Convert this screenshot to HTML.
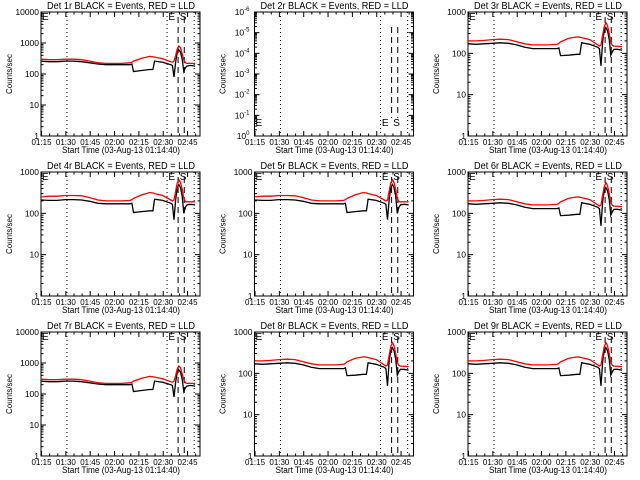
<!DOCTYPE html>
<html><head><meta charset="utf-8"><style>
html,body{margin:0;padding:0;background:#fff;}
svg{display:block;font-family:"Liberation Sans",sans-serif;}
</style></head><body>
<svg id="chart" width="640" height="480" viewBox="0 0 640 480" xmlns="http://www.w3.org/2000/svg"><rect width="640" height="480" fill="#fff"/></svg>
<script>
// minutes since 01:14:40
const times = [0,5,10,15,20,25,30,35,40,45,50,55,56,57,62,67,69,70,75,80,81,82,83,84,85,86,87,88,89,90,92,95];
const redA = [300,290,290,300,300,290,260,230,220,220,220,230,240,260,320,370,360,350,310,250,240,260,400,650,800,700,450,280,230,220,220,220];
const blackA = [260,250,250,260,260,250,230,210,200,200,200,200,210,120,130,140,140,260,240,200,190,80,250,500,600,500,300,120,160,180,190,180];
const redB = [250,260,260,270,270,265,240,210,200,200,200,205,215,230,280,320,310,300,270,210,200,210,350,550,650,560,380,230,190,190,190,190];
const blackB = [210,205,205,215,215,210,195,175,170,170,170,170,175,105,110,115,115,220,205,175,165,70,220,420,500,420,260,100,140,160,165,160];
const redC = [200,200,205,215,220,215,190,170,160,160,160,165,175,190,230,250,245,240,215,160,150,160,280,450,550,470,300,180,155,150,148,145];
const blackC = [170,165,170,175,180,175,160,140,130,130,130,130,135,88,90,95,95,180,165,140,130,50,200,350,420,350,220,90,110,125,125,120];
const detNames = ["1r","2r","3r","4r","5r","6r","7r","8r","9r"];
const panelSeries = ["A","none","C","B","B","C","A","C","C"];
const panelTopExp = [4,6,3,3,3,3,4,3,3];
const xTickLabels = ["01:15","01:30","01:45","02:00","02:15","02:30","02:45"];
const dottedTimes = [16,77.7,94.4];
const dashedTimes = [84.5,88.3];
const spanMin = 98;

const svg = document.getElementById('chart');
const NS = "http://www.w3.org/2000/svg";
function mk(tag, attrs, parent){ const e=document.createElementNS(NS,tag); for(const k in attrs) e.setAttribute(k,attrs[k]); (parent||svg).appendChild(e); return e; }
const seriesMap = {A:[redA,blackA],B:[redB,blackB],C:[redC,blackC]};

for(let i=0;i<9;i++){
  const col=i%3,row=Math.floor(i/3);
  const L=41+col*213.5, T=12+row*160, PW=159, PH=124;
  const g=mk('g',{});
  
  
  const xs=t=>L+t/spanMin*PW;
  const ne=panelTopExp[i];
  const ys=v=>T+PH-Math.log10(v)/ne*PH;
  const ye=e=>T+PH-e/ne*PH;
  const ti=mk('text',{x:L+80,y:T-3,'text-anchor':'middle','font-size':'10','textLength':148,'lengthAdjust':'spacingAndGlyphs'},g);
  ti.textContent='Det '+detNames[i]+' BLACK = Events, RED = LLD';
  
  
  const bx=mk('rect',{x:L,y:T,width:PW,height:PH,fill:'none',stroke:'#000','stroke-width':1},g);
  
  
  for(let e=0;e<=ne;e++){
    const y=ye(e);
    mk('line',{x1:L,x2:L+5,y1:y,y2:y,stroke:'#000'},g);
    mk('line',{x1:L+PW,x2:L+PW-5,y1:y,y2:y,stroke:'#000'},g);
    if(e<ne){ for(let m=2;m<10;m++){ const yy=ye(e+Math.log10(m));
      mk('line',{x1:L,x2:L+2.5,y1:yy,y2:yy,stroke:'#000'},g);
      mk('line',{x1:L+PW,x2:L+PW-2.5,y1:yy,y2:yy,stroke:'#000'},g);} }
    const tl=mk('text',{x:L-2,y:y+3,'text-anchor':'end','font-size':'8.5'},g);
    
    
    if(i===1){ tl.textContent='10'; const sp=mk('tspan',{dy:-4,'font-size':'6'},tl); sp.textContent=(e===0?'0':'-'+e); tl.setAttribute('x',L-5); }
    else tl.textContent=String(Math.pow(10,e));
  }
  for(let k=0;k<=19;k++){ const t=0.333+k*5; if(t>spanMin) break; const x=xs(t); const maj=k%3===0;
    mk('line',{x1:x,x2:x,y1:T+PH,y2:T+PH-(maj?5:2.5),stroke:'#000'},g);
    mk('line',{x1:x,x2:x,y1:T,y2:T+(maj?5:2.5),stroke:'#000'},g);
  }
  xTickLabels.forEach((lab,k)=>{ const t=mk('text',{x:xs(0.333+k*15),y:T+PH+9,'text-anchor':'middle','font-size':'8','textLength':20,'lengthAdjust':'spacingAndGlyphs'},g); t.textContent=lab;
    
     });
  const xt=mk('text',{x:L+80,y:T+PH+17,'text-anchor':'middle','font-size':'9','textLength':118,'lengthAdjust':'spacingAndGlyphs'},g);
  xt.textContent='Start Time (03-Aug-13 01:14:40)';
  
  
  const yt=mk('text',{x:0,y:0,'text-anchor':'middle','font-size':'8',transform:`translate(${L-29},${T+62}) rotate(-90)`},g);
  yt.textContent='Counts/sec';
  
  
  dottedTimes.forEach(t=>{ const l=mk('line',{x1:xs(t),x2:xs(t),y1:T,y2:T+PH,stroke:'#000','stroke-dasharray':'1,3'},g);
    
     });
  dashedTimes.forEach(t=>{ const l=mk('line',{x1:xs(t),x2:xs(t),y1:T+(i===1?15:5),y2:T+(i===1?PH-18:PH),stroke:'#000','stroke-dasharray':'6,4'},g);
    
     });
  const my = i===1 ? T+PH-10 : T+8;
  const e1=mk('text',{x:L+1,y:my,'font-size':'10'},g); e1.textContent='E';
  
  
  const e2=mk('text',{x:xs(78.5),y:my,'font-size':'10'},g); e2.textContent='E';
  
  
  const s1=mk('text',{x:xs(85.5),y:my,'font-size':'10'},g); s1.textContent='S';
  
  
  const ss=seriesMap[panelSeries[i]];
  if(ss){
    const [red,black]=ss;
    const pb=times.map((t,j)=>xs(t).toFixed(1)+','+ys(black[j]).toFixed(1)).join(' ');
    const bl=mk('polyline',{points:pb,fill:'none',stroke:'#000','stroke-width':1.3},g);
    
    
    const pr=times.map((t,j)=>xs(t).toFixed(1)+','+ys(red[j]).toFixed(1)).join(' ');
    const rl=mk('polyline',{points:pr,fill:'none',stroke:'#ff0000','stroke-width':1.3},g);
    
    
  }
}
</script>
</body></html>
